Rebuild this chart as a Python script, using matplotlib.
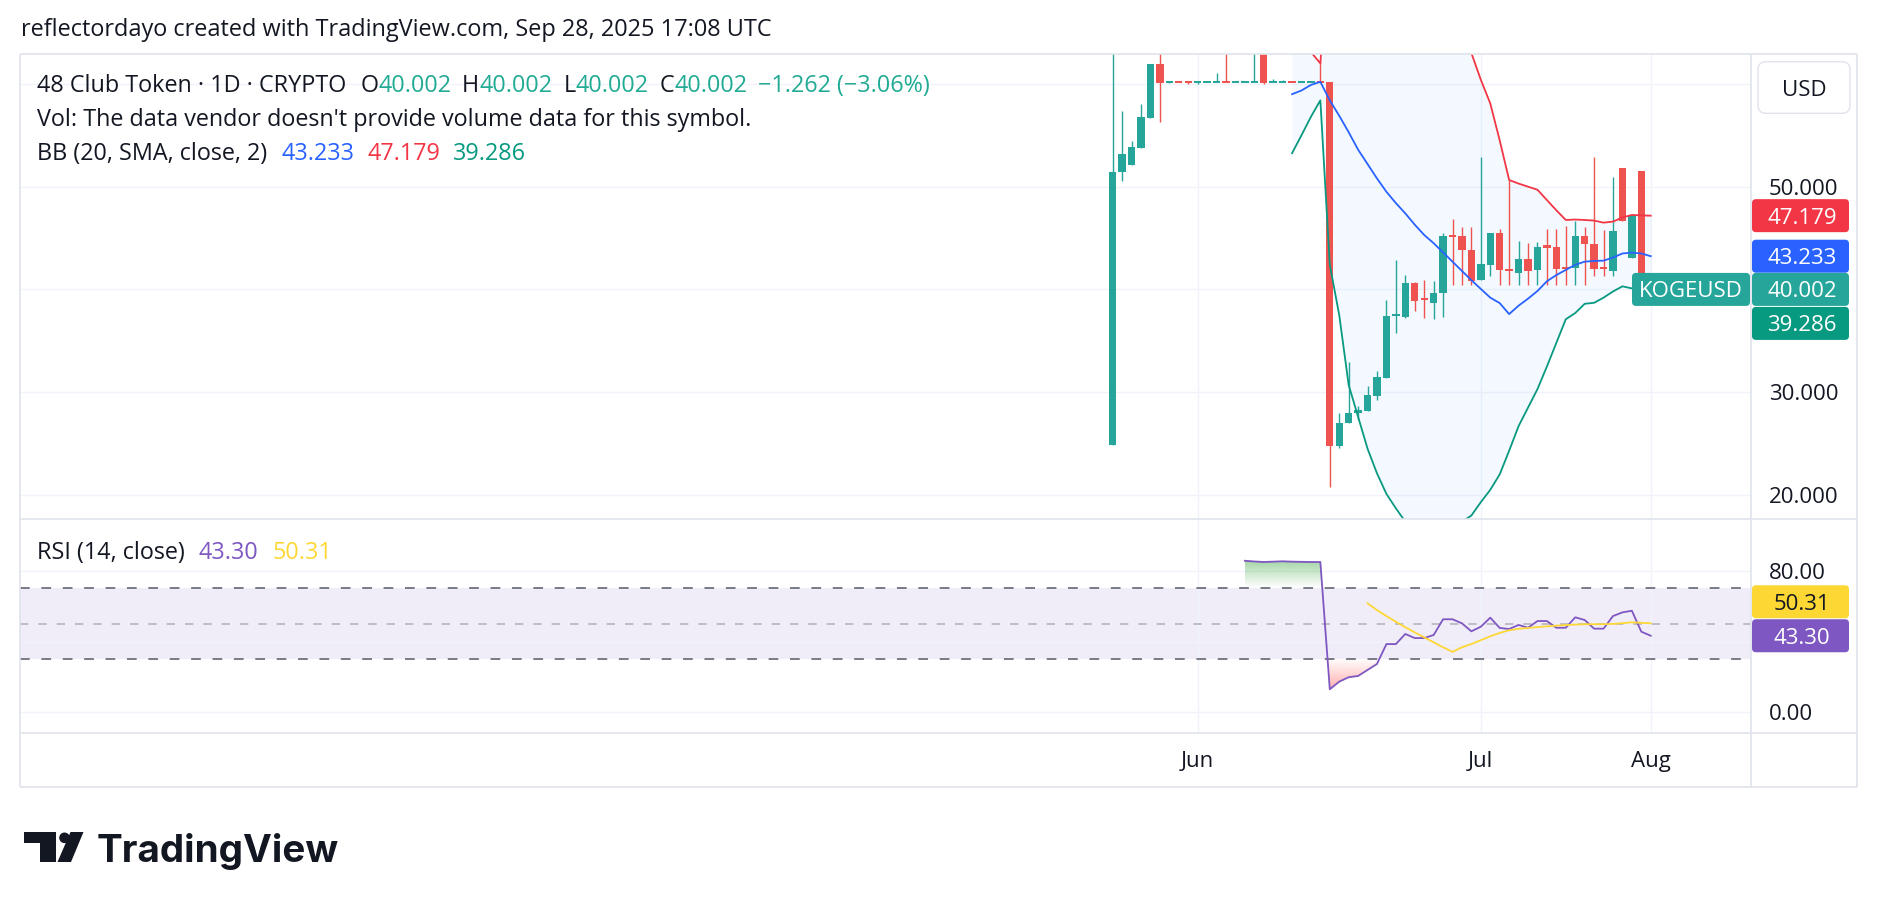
import numpy as np
import matplotlib
matplotlib.use("Agg")
import matplotlib.pyplot as plt
from matplotlib.colors import to_rgb
from matplotlib.patches import FancyBboxPatch, Circle, Polygon

plt.rcParams["font.family"] = ["Open Sans", "DejaVu Sans"]

W, H = 1878, 908

# daily bars of KOGEUSD, index 0 = first bar on the chart
opens = [24.9, 51.4, 52.1, 53.8, 56.7, 61.9, 60.1, 60.25, 60.22, 60.2,
         60.2, 60.2, 60.25, 60.2, 60.2, 60.2, 64.0, 60.2, 60.2, 60.22,
         60.2, 60.2, 60.22, 60.2, 24.8, 27.0, 28.0, 28.2, 29.6, 31.4,
         37.45, 37.3, 40.6, 39.05, 38.7, 39.7, 45.25, 45.2, 43.8, 40.9,
         42.4, 45.5, 41.95, 41.6, 42.95, 41.9, 44.2, 44.1, 42.15, 42.1,
         45.2, 44.4, 42.15, 41.8, 51.8, 43.1, 51.5, 40.002]
highs = [66.0, 57.4, 54.4, 58.0, 61.9, 66.0, 60.3, 60.25, 60.22, 60.22,
         60.22, 61.05, 66.0, 60.3, 60.25, 66.0, 64.0, 60.45, 60.35, 60.22,
         60.22, 60.22, 62.2, 60.2, 28.0, 32.9, 28.65, 30.6, 32.1, 39.0,
         42.85, 41.4, 40.75, 40.9, 40.8, 45.5, 46.9, 46.1, 46.1, 52.9,
         45.5, 45.9, 50.65, 44.7, 44.5, 44.6, 45.9, 45.9, 46.2, 46.7,
         46.1, 52.9, 45.8, 50.9, 51.8, 47.2, 51.5, 40.002]
lows = [24.9, 50.6, 52.1, 53.8, 56.7, 56.3, 60.1, 60.2, 59.95, 59.95,
        60.2, 60.2, 60.2, 60.15, 60.2, 60.2, 59.95, 60.2, 60.2, 60.2,
        60.2, 60.2, 60.2, 20.8, 24.6, 27.0, 27.3, 28.2, 29.2, 31.4,
        35.8, 37.25, 37.9, 37.2, 37.1, 37.3, 40.4, 40.4, 40.4, 40.9,
        41.3, 40.4, 40.4, 40.4, 40.4, 40.4, 40.4, 40.4, 40.4, 40.4,
        40.4, 41.3, 41.3, 41.3, 46.7, 43.1, 41.264, 40.002]
closes = [51.4, 53.2, 53.9, 56.8, 61.9, 60.1, 60.25, 60.2, 60.2, 60.22,
          60.22, 60.22, 60.2, 60.22, 60.22, 60.22, 60.1, 60.22, 60.22, 60.2,
          60.22, 60.22, 60.2, 24.8, 27.0, 28.0, 28.3, 29.7, 31.45, 37.4,
          37.6, 40.6, 38.9, 39.0, 39.7, 45.2, 45.2, 43.8, 40.8, 42.5,
          45.5, 41.9, 41.9, 42.95, 41.8, 44.1, 44.15, 42.0, 42.1, 45.2,
          44.4, 41.95, 42.1, 45.7, 46.7, 47.2, 41.264, 40.002]

# Bollinger Bands (20, SMA, close, 2), first value on bar 19
bb_start = 19
bb_upper = [66.0, 64.5, 63.1, 62.0, 75.0, 78.0, 80.0, 81.0, 81.0, 80.0,
            78.5, 77.0, 75.5, 74.0, 72.5, 71.0, 69.5, 68.0, 66.0, 63.0,
            60.4, 58.1, 54.5, 50.65, 50.3, 50.0, 49.7, 48.7, 47.7, 46.76,
            46.8, 46.76, 46.7, 46.5, 46.6, 47.0, 47.25, 47.2, 47.179]
bb_basis = [59.0, 59.36, 59.9, 60.2, 58.4, 56.9, 55.3, 53.6, 52.2, 50.8,
            49.5, 48.4, 47.4, 46.3, 45.3, 44.5, 43.6, 42.7, 41.8, 40.9,
            40.05, 39.2, 38.67, 37.6, 38.42, 39.1, 39.85, 40.8, 41.4, 41.9,
            42.4, 42.7, 42.77, 42.8, 43.1, 43.5, 43.58, 43.5, 43.233]
bb_lower = [53.25, 55.0, 56.8, 58.4, 42.4, 37.5, 30.7, 27.6, 24.5, 22.1,
            20.1, 18.7, 17.4, 16.5, 16.0, 15.8, 15.9, 16.5, 17.4, 18.0,
            19.3, 20.5, 22.0, 24.3, 26.7, 28.5, 30.3, 32.5, 34.8, 37.1,
            37.7, 38.6, 38.7, 39.2, 39.8, 40.3, 40.1, 39.9, 39.286]

# RSI (14, close) and its moving average
rsi_start = 14
rsi = [85.6, 85.2, 84.9, 85.1, 85.3, 85.1, 85.0, 84.9, 84.9, 13.1,
       17.4, 19.9, 20.6, 24.0, 27.4, 38.6, 38.6, 44.3, 42.0, 42.0,
       43.7, 52.6, 52.6, 50.3, 45.8, 48.4, 53.5, 47.7, 47.1, 49.4,
       47.8, 51.6, 51.6, 47.8, 47.8, 53.7, 52.2, 47.3, 47.3, 54.4,
       56.5, 57.4, 45.6, 43.30]
rsi_ma_start = 27
rsi_ma = [61.6, 57.8, 54.4, 51.2, 48.1, 45.2, 42.4, 39.6, 36.8, 34.2,
          36.8, 38.6, 40.8, 43.0, 44.9, 46.4, 47.2, 47.7, 48.2, 48.6,
          49.0, 49.3, 49.6, 49.8, 49.8, 49.8, 50.0, 50.4, 50.9, 50.6, 50.31]

month_idx = [9, 39, 57]
month_labels = ["Jun", "Jul", "Aug"]
price_ticks = [20, 30, 40, 50, 60]
price_labels = ["20.000", "30.000", "", "50.000", ""]   # 40 and 60 sit under the tags
rsi_ticks = [0, 40, 80]
rsi_labels = ["0.00", "", "80.00"]

DARK = "#131722"
UP, DOWN = "#26a69a", "#ef5350"
GRID = "#f0f3fa"
BORDER = "#e0e3eb"

fig = plt.figure(figsize=(W / 100, H / 100), dpi=100)
fig.patch.set_facecolor("white")


def rect(x0, y0, x1, y1):
    return [x0 / W, 1 - y1 / H, (x1 - x0) / W, (y1 - y0) / H]


ax = fig.add_axes(rect(20, 54, 1751, 519))
ax_rsi = fig.add_axes(rect(20, 519, 1751, 733))

for a in (ax, ax_rsi):
    a.set_xlim(-115.75, 67.62)
    for s in a.spines.values():
        s.set_visible(False)
    a.set_xticks(month_idx)
    a.grid(True, color=GRID, lw=1.0)
    a.set_axisbelow(True)
    a.yaxis.tick_right()
    a.tick_params(axis="y", length=0, pad=12.7, labelsize=16, labelcolor=DARK)

# ---- price pane ----
x = np.arange(len(closes))
o, c = np.array(opens), np.array(closes)
colors = np.where(c >= o, UP, DOWN)
body_h = np.abs(c - o)
body_lo = np.where(body_h < 0.2, (o + c) / 2 - 0.1, np.minimum(o, c))
body_h = np.maximum(body_h, 0.2)
ax.vlines(x, lows, highs, colors=colors, lw=1.0, zorder=3)
ax.bar(x, body_h, 0.78, bottom=body_lo, color=colors, lw=0, zorder=3)

bb_x = np.arange(bb_start, bb_start + len(bb_basis))
ax.fill_between(bb_x, bb_upper, bb_lower, color="#2196f3", alpha=0.05, lw=0, zorder=1)
ax.plot(bb_x, bb_basis, color="#2962ff", lw=1.3, zorder=4)
ax.plot(bb_x, bb_upper, color="#f23645", lw=1.3, zorder=4)
ax.plot(bb_x, bb_lower, color="#089981", lw=1.3, zorder=4)

ax.set_ylim(17.66, 62.91)
ax.set_yticks(price_ticks)
ax.set_yticklabels(price_labels)
ax.tick_params(axis="x", length=0, labelbottom=False)

# ---- RSI pane ----
ax_rsi.axhspan(30, 70, color="#7e57c2", alpha=0.1, lw=0, zorder=0.2)
ax_rsi.axhline(70, color="#787b86", lw=1.4, dashes=(5, 6), zorder=1)
ax_rsi.axhline(30, color="#787b86", lw=1.4, dashes=(5, 6), zorder=1)
ax_rsi.axhline(50, color="#787b86", alpha=0.5, lw=1.2, dashes=(5, 6), zorder=1)

rsi_x = np.arange(rsi_start, rsi_start + len(rsi))
rsi_arr = np.array(rsi)


def gradient_fill(a, xs, ys, mask, base, far, color, amax):
    region = a.fill_between(xs, ys, base, where=mask, interpolate=True,
                            facecolor="none", edgecolor="none")
    grad = np.zeros((256, 1, 4))
    grad[..., :3] = to_rgb(color)
    grad[:, 0, 3] = np.linspace(0, amax, 256)
    for path in region.get_paths():
        im = a.imshow(grad, extent=(xs[0], xs[-1], min(base, far), max(base, far)),
                      aspect="auto", origin="lower" if far > base else "upper",
                      interpolation="bilinear", zorder=2)
        im.set_clip_path(path, transform=a.transData)


gradient_fill(ax_rsi, rsi_x, rsi_arr, rsi_arr >= 70, 70, 100, "#4caf50", 1.0)
gradient_fill(ax_rsi, rsi_x, rsi_arr, rsi_arr <= 30, 30, 0, "#ff5252", 0.8)

ax_rsi.plot(rsi_x, rsi, color="#7e57c2", lw=1.3, zorder=4)
ma_x = np.arange(rsi_ma_start, rsi_ma_start + len(rsi_ma))
ax_rsi.plot(ma_x, rsi_ma, color="#fdd835", lw=1.3, zorder=4)

ax_rsi.set_xlim(-115.75, 67.62)
ax_rsi.set_ylim(-11.57, 109.17)
ax_rsi.set_yticks(rsi_ticks)
ax_rsi.set_yticklabels(rsi_labels)
ax_rsi.set_xticklabels(month_labels)
ax_rsi.tick_params(axis="x", length=0, pad=13, labelsize=16, labelcolor=DARK)

# ---- overlay in pixel coordinates: frame, tags, legends, logo ----
ov = fig.add_axes([0, 0, 1, 1])
ov.set_xlim(0, W)
ov.set_ylim(H, 0)
ov.axis("off")

ov.hlines([54, 519, 733, 787], 20, 1857, color=BORDER, lw=1.2)
ov.vlines([20, 1751, 1857], 54, 787, color=BORDER, lw=1.2)


def py(a, v):
    return H - a.transData.transform((0, v))[1]


def tag(y, text, face, fg="white"):
    ov.add_patch(FancyBboxPatch((1752, y - 16.5), 97, 33, boxstyle="round,pad=0,rounding_size=4",
                                fc=face, ec="none", zorder=5))
    ov.text(1802, y + 8, text, ha="center", va="baseline", color=fg, fontsize=16, zorder=6)


y_close = py(ax, closes[-1])
tag(py(ax, bb_upper[-1]), f"{bb_upper[-1]:.3f}", "#f23645")
tag(py(ax, bb_basis[-1]), f"{bb_basis[-1]:.3f}", "#2962ff")
tag(y_close, f"{closes[-1]:.3f}", UP)
tag(y_close + 34, f"{bb_lower[-1]:.3f}", "#089981")
ov.add_patch(FancyBboxPatch((1632, y_close - 16.5), 118, 33, boxstyle="round,pad=0,rounding_size=4",
                            fc=UP, ec="none", zorder=5))
ov.text(1691, y_close + 8, "KOGEUSD", ha="center", va="baseline", color="white", fontsize=16, zorder=6)

y_rsi = py(ax_rsi, rsi[-1])
tag(y_rsi, f"{rsi[-1]:.2f}", "#7e57c2")
tag(y_rsi - 34, f"{rsi_ma[-1]:.2f}", "#fdd835", fg=DARK)

ov.add_patch(FancyBboxPatch((1758, 61.7), 92, 51.6, boxstyle="round,pad=0,rounding_size=8",
                            fc="white", ec=BORDER, lw=1.0, zorder=5))
ov.text(1804, 95.5, "USD", ha="center", va="baseline", color=DARK, fontsize=16, zorder=6)

renderer = fig.canvas.get_renderer()


def legend_line(x0, base, parts, size=16.8):
    xx = x0
    for gap, s, col in parts:
        xx += gap
        t = ov.text(xx, base, s, color=col, fontsize=size, va="baseline", ha="left")
        xx += t.get_window_extent(renderer).width


ov.text(21, 36, "reflectordayo created with TradingView.com, Sep 28, 2025 17:08 UTC",
        color=DARK, fontsize=16.9, va="baseline")

chg = closes[-1] - closes[-2]
pct = chg / closes[-2] * 100
val = f"{closes[-1]:.3f}"
TEAL = "#22ab94"
legend_line(37, 92, [(0, "48 Club Token · 1D · CRYPTO", DARK),
                     (14, "O", DARK), (0, f"{opens[-1]:.3f}", TEAL),
                     (11, "H", DARK), (0, f"{highs[-1]:.3f}", TEAL),
                     (11, "L", DARK), (0, f"{lows[-1]:.3f}", TEAL),
                     (11, "C", DARK), (0, val, TEAL),
                     (11, f"{chg:.3f} ({pct:.2f}%)".replace("-", "\u2212"), TEAL)])
legend_line(37, 126, [(0, "Vol: The data vendor doesn't provide volume data for this symbol.", DARK)])
legend_line(37, 160, [(0, "BB (20, SMA, close, 2)", DARK),
                      (14, f"{bb_basis[-1]:.3f}", "#2962ff"),
                      (13, f"{bb_upper[-1]:.3f}", "#f23645"),
                      (13, f"{bb_lower[-1]:.3f}", "#089981")])
legend_line(37, 559, [(0, "RSI (14, close)", DARK),
                      (14, f"{rsi[-1]:.2f}", "#7e57c2"),
                      (14, f"{rsi_ma[-1]:.2f}", "#fdd835")])

# TradingView logo
ov.add_patch(Polygon([(24, 832), (56, 832), (56, 862), (40, 862), (40, 843), (24, 843)],
                     closed=True, fc=DARK, ec="none"))
ov.add_patch(Circle((64.5, 837.8), 5.3, fc=DARK, ec="none"))
ov.add_patch(Polygon([(70.5, 832), (83.5, 832), (71, 862), (57.5, 862)], closed=True, fc=DARK, ec="none"))
ov.text(97, 862, "TradingView", fontfamily=["Inter", "DejaVu Sans"], fontweight="bold",
        fontsize=27.8, va="baseline", color=DARK)

fig.savefig("out.png", dpi=100, facecolor="white")
